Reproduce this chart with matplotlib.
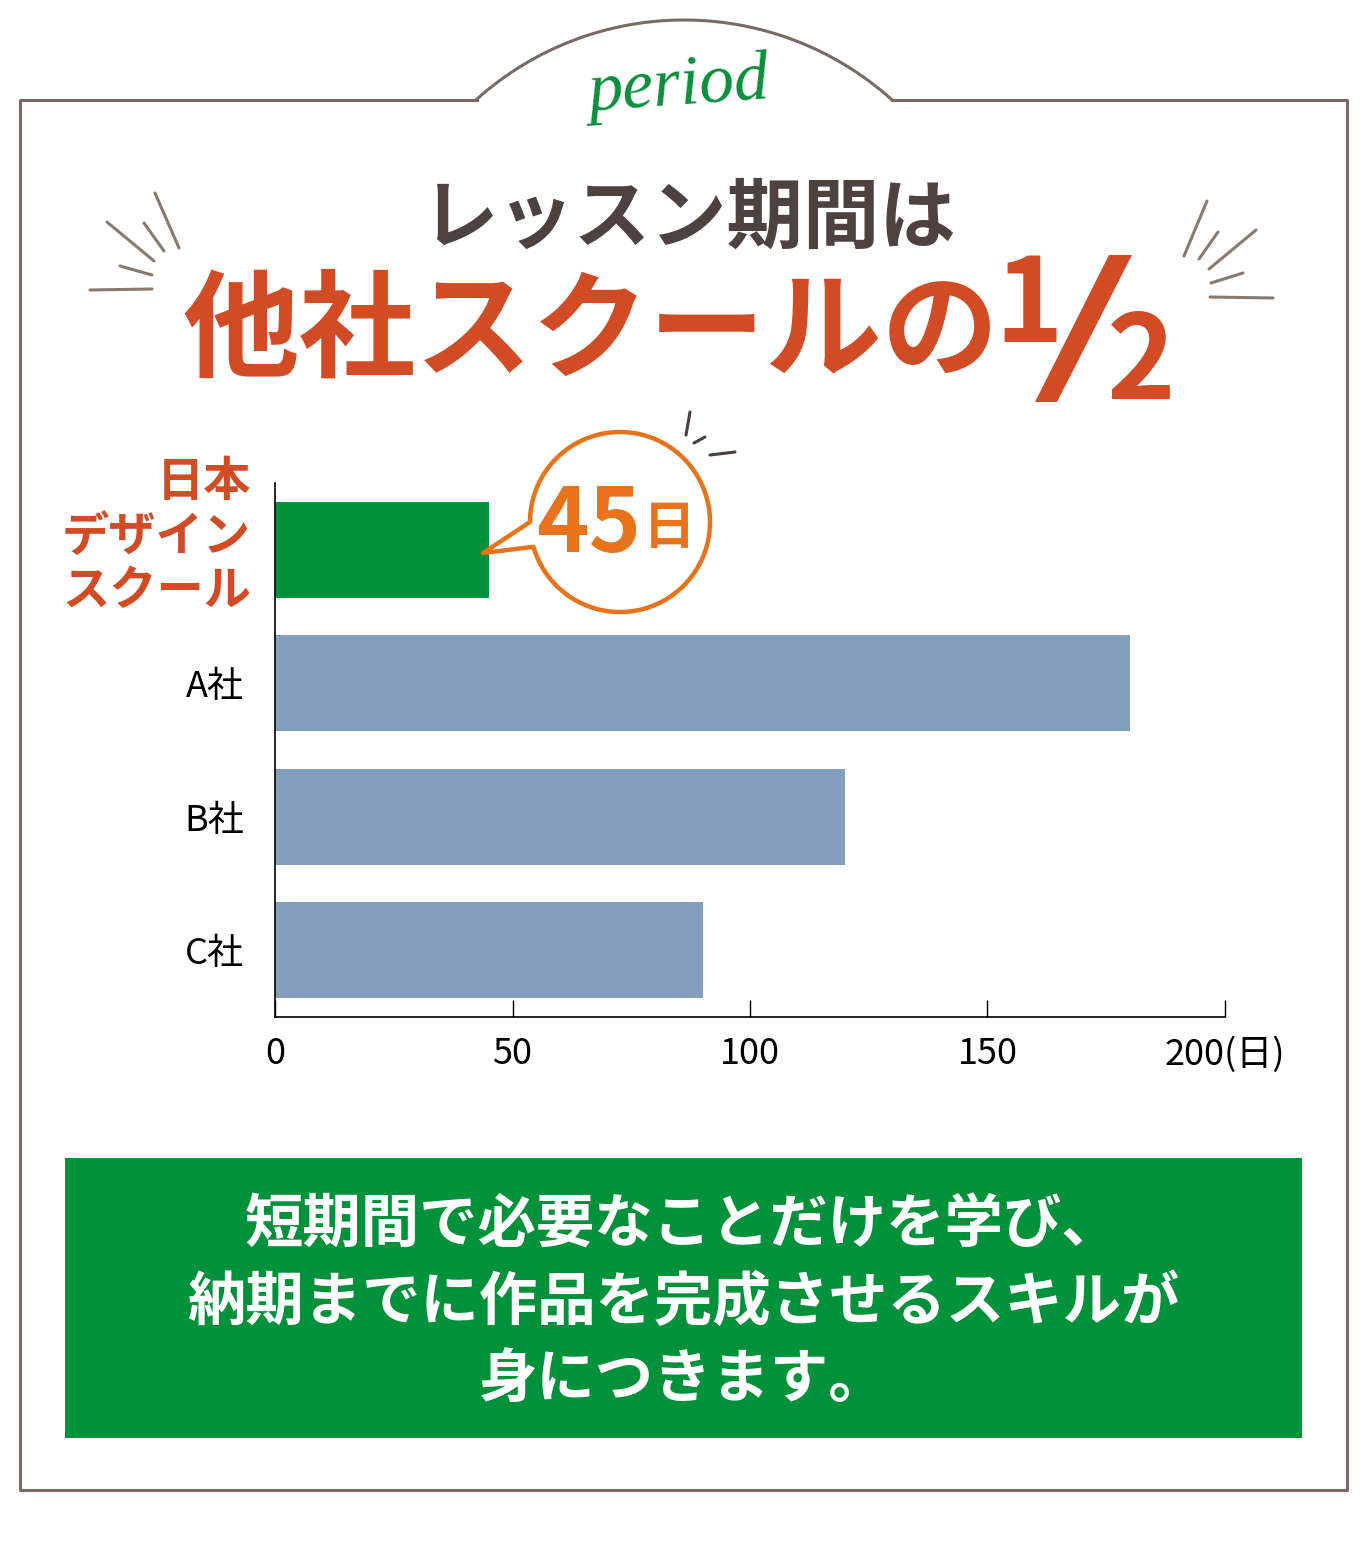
import numpy as np
import matplotlib
matplotlib.use("Agg")
import matplotlib.pyplot as plt
from matplotlib.patches import Rectangle, Polygon
from matplotlib import transforms

plt.rcParams['font.family'] = ['Noto Sans CJK JP', 'DejaVu Sans']

# data
categories = ["日本\nデザイン\nスクール", "A社", "B社", "C社"]
days = [45, 180, 120, 90]
bar_colors = ["#00913a", "#839fbd", "#839fbd", "#839fbd"]
xticks = [0, 50, 100, 150, 200]
xtick_labels = ["0", "50", "100", "150", "200(日)"]

title1 = "レッスン期間は"
title2 = "他社スクールの"
callout = "45"
summary = ["短期間で必要なことだけを学び、",
           "納期までに作品を完成させるスキルが",
           "身につきます。"]

W, H = 1368, 1541
fig = plt.figure(figsize=(W / 100, H / 100), dpi=100)
fig.patch.set_facecolor("white")

# overlay axes in pixel coordinates for decorations
ov = fig.add_axes([0, 0, 1, 1], zorder=5)
ov.set_xlim(0, W)
ov.set_ylim(H, 0)
ov.axis("off")
ov.patch.set_alpha(0)

frame_c = "#7a6a62"
# frame with arched top
t = np.linspace(np.arcsin(207 / 310.7), -np.arcsin(207 / 310.7), 80)
arc_x = 684 - 310.7 * np.sin(t)
arc_y = 330.7 - 310.7 * np.cos(t)
fx = [477, 20, 20, 1347, 1347, 892]
fy = [100, 100, 1490, 1490, 100, 100]
ov.plot(arc_x, arc_y, color=frame_c, lw=2.2)
ov.plot(fx, fy, color=frame_c, lw=2.2)

ov.text(678, 88, "period", color="#0b8f3c", fontsize=50, family="Liberation Serif",
        style="italic", ha="center", va="center", rotation=4)

# sparkle lines
ray_c = "#8a7a6c"
rays = [((155, 193), (179, 248)), ((144, 223), (164, 251)), ((107, 222), (154, 261)),
        ((120, 266), (152, 275)), ((90, 290), (152, 289)),
        ((1207, 201), (1184, 256)), ((1218, 232), (1199, 259)), ((1256, 230), (1209, 269)),
        ((1243, 273), (1211, 283)), ((1210, 297), (1273, 298))]
for (x0, y0), (x1, y1) in rays:
    ov.plot([x0, x1], [y0, y1], color=ray_c, lw=2.2, solid_capstyle="round")

ov.text(688, 219, title1, color="#4d4240", fontsize=55, fontweight="bold",
        ha="center", va="center")
red = "#d14b24"
ov.text(591, 334, title2, color=red, fontsize=84, fontweight="bold",
        ha="center", va="center")
ov.text(1029, 308, "1", color=red, fontsize=84, fontweight="bold",
        ha="center", va="center")
ov.add_patch(Polygon([(1035, 402), (1057, 402), (1132, 255), (1109, 255)],
                     closed=True, color=red, lw=0))
ov.text(1141, 365, "2", color=red, fontsize=84, fontweight="bold",
        ha="center", va="center")

# chart
ax = fig.add_axes([275 / W, 1 - 1017 / H, 950 / W, 534 / H], zorder=2)
ypos = np.arange(len(categories))
ax.barh(ypos, days, height=0.72, color=bar_colors)
ax.set_ylim(len(categories) - 0.5, -0.5)
ax.set_xlim(0, 200)
ax.set_xticks(xticks)
ax.set_xticklabels(xtick_labels, fontsize=26)
ax.set_yticks(ypos[1:])
ax.set_yticklabels(categories[1:], fontsize=26)
ax.tick_params(axis="x", direction="in", length=12, width=1, pad=14)
ax.tick_params(axis="y", length=0, pad=22)
for s in ["top", "right"]:
    ax.spines[s].set_visible(False)
for s in ["left", "bottom"]:
    ax.spines[s].set_linewidth(1.2)
lab_tr = transforms.offset_copy(ax.get_yaxis_transform(), fig=fig, x=-24, y=13, units="dots")
ax.text(0, ypos[0], categories[0], transform=lab_tr, color=red, fontsize=34,
        fontweight="bold", ha="right", va="center", multialignment="right",
        linespacing=1.17)

# speech bubble
orange = "#e8731a"
cx, cy, r = 620, 522, 90
tt = np.linspace(np.deg2rad(180), np.deg2rad(164 + 360), 200)
pts = list(zip(cx + r * np.cos(tt), cy + r * np.sin(tt)))
pts.append((483, 553))
ov.add_patch(Polygon(pts, closed=True, facecolor="white", edgecolor=orange, lw=3.2,
                     joinstyle="round"))
ov.text(589, 526, callout, color=orange, fontsize=64, fontweight="bold",
        ha="center", va="center")
ov.text(669, 528, "日", color=orange, fontsize=38, fontweight="bold",
        ha="center", va="center")
for (x0, y0), (x1, y1) in [((690, 412), (686, 435)), ((694, 443), (705, 437)),
                           ((710, 455), (735, 452))]:
    ov.plot([x0, x1], [y0, y1], color="#4a3f3a", lw=2.2, solid_capstyle="round")

# summary box
ov.add_patch(Rectangle((65, 1158), 1237, 280, color="#00913a", lw=0))
for i, line in enumerate(summary):
    ov.text(683, 1226 + 77 * i, line, color="white", fontsize=42, fontweight="bold",
            ha="center", va="center")

fig.savefig("out.png", dpi=100)
